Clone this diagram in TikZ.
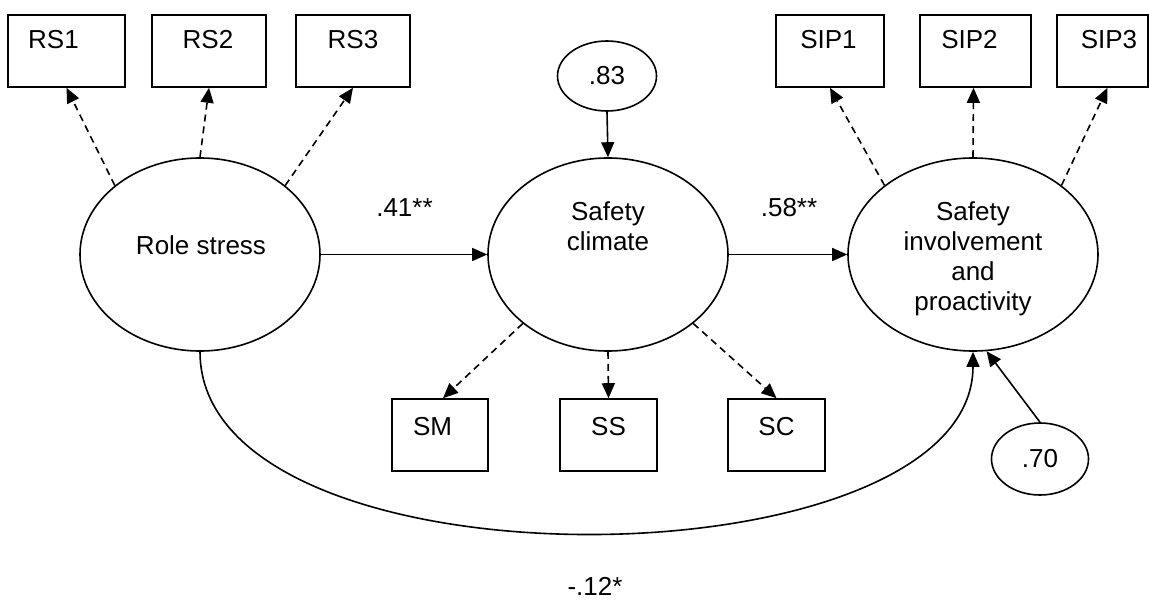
\documentclass[tikz,border=0pt]{standalone}
\usepackage{fontspec}
\setmainfont{Liberation Sans}
\usetikzlibrary{shapes.geometric,arrows.meta}
\tikzset{
  every picture/.style={line width=1.6pt},
  txt/.style={font=\fontsize{26}{30}\selectfont, inner sep=0pt, align=center},
  ibox/.style={draw, rectangle, minimum height=72pt, inner sep=0pt},
  latent/.style={draw, ellipse, minimum width=240pt, minimum height=193pt, inner sep=0pt},
  resid/.style={draw, ellipse, inner sep=0pt, font=\fontsize{26}{30}\selectfont},
  tip/.style={-{Triangle[length=15pt,width=13pt]}},
  dsh/.style={tip, dash pattern=on 7pt off 5pt},
}
\begin{document}
\begin{tikzpicture}[x=1pt,y=-1pt]
\useasboundingbox (0,0) rectangle (1149,604);
% indicator boxes
\node[ibox, minimum width=117pt] (rs1) at (66.5,51) {};
\node[ibox, minimum width=114pt] (rs2) at (209,51) {};
\node[ibox, minimum width=114pt] (rs3) at (353,51) {};
\node[ibox, minimum width=108pt] (sip1) at (830,51) {};
\node[ibox, minimum width=111pt] (sip2) at (975.5,51) {};
\node[ibox, minimum width=91pt] (sip3) at (1102.5,51) {};
\node[ibox, minimum width=96pt] (sm) at (440,435) {};
\node[ibox, minimum width=97pt] (ss) at (608.5,435) {};
\node[ibox, minimum width=97pt] (scb) at (776.5,435) {};
\node[txt] (trs1) at (53.5,40) {RS1};
\node[txt] (trs2) at (208,40) {RS2};
\node[txt] (trs3) at (353,40) {RS3};
\node[txt] (tsip1) at (828.5,40) {SIP1};
\node[txt] (tsip2) at (969.5,40) {SIP2};
\node[txt] (tsip3) at (1109,40) {SIP3};
\node[txt] (tsm) at (432.5,427) {SM};
\node[txt] (tss) at (608.5,427) {SS};
\node[txt] (tsc) at (776.5,427) {SC};
% latent variables
\node[latent] (rs) at (200,254.5) {};
\node[latent] (sc) at (608,254.5) {};
\node[latent, minimum width=250pt] (sip) at (973,254.5) {};
\node[txt] (trs) at (201,245) {Role stress};
\node[txt] (tsc2) at (608,226) {Safety\\climate};
\node[txt] (tsip) at (973,259) {Safety\\involvement\\and\\proactivity};
% residuals
\node[resid, minimum width=99pt, minimum height=70pt] (e83) at (607,76) {.83};
\node[resid, minimum width=97pt, minimum height=72pt] (e70) at (1040,459) {.70};
% structural paths
\draw[tip] (rs.east) -- (sc.west);
\draw[tip] (sc.east) -- (sip.west);
\draw[tip] (e83.south) -- (sc.north);
\draw[tip] (e70.north) -- (sip.-82);
\draw[tip] (rs.south) .. controls (200,598) and (973,588) .. (sip.south);
\node[txt] (l41) at (404.5,208) {.41**};
\node[txt] (l58) at (789,208) {.58**};
\node[txt] (l12) at (595,586) {-.12*};
% measurement paths
\draw[dsh] (rs.141) -- (rs1.south);
\draw[dsh] (rs.90) -- (rs2.south);
\draw[dsh] (rs.39) -- (rs3.south);
\draw[dsh] (sip.142) -- (sip1.south);
\draw[dsh] (sip.90) -- ([xshift=-2pt]sip2.south);
\draw[dsh] (sip.38) -- ([xshift=5pt]sip3.south);
\draw[dsh] (sc.219) -- ([xshift=3pt]sm.north);
\draw[dsh] (sc.270) -- (ss.north);
\draw[dsh] (sc.321) -- (scb.north);
\end{tikzpicture}
\end{document}
